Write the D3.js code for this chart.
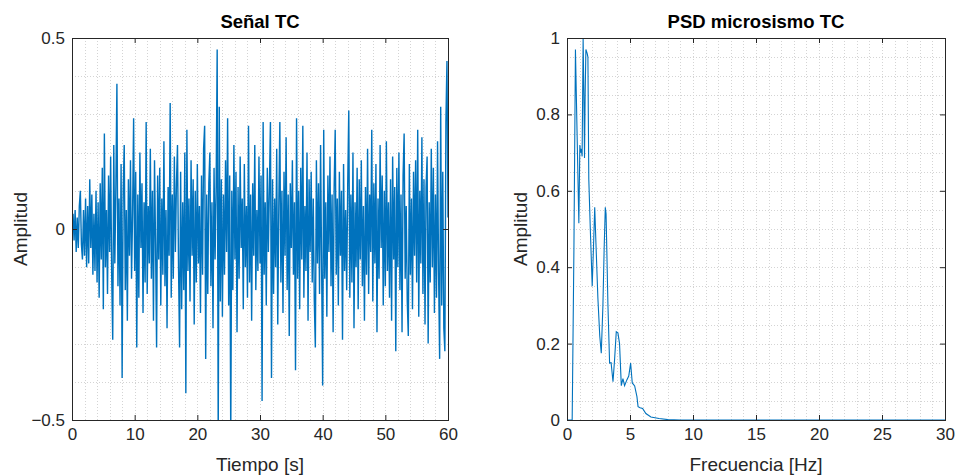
<!DOCTYPE html>
<html>
<head>
<meta charset="utf-8">
<script src="https://cdn.jsdelivr.net/npm/d3@7"></script>
<style>
body { margin: 0; background: #fff; }
text { font-family: "Liberation Sans", Arial, Helvetica, sans-serif; fill: #262626; }
</style>
</head>
<body>
<div id="chart"></div>
<script>

// Señal TC (one sample every 1/6 s, 0..60 s)
var signalTC = [
   0.00, 0.04,-0.03, 0.05,-0.06, 0.03,-0.05, 0.06, 0.10,-0.04,-0.08, 0.05,
  -0.07, 0.08,-0.10, 0.06,-0.09, 0.13,-0.05, 0.09,-0.12, 0.04,-0.11, 0.10,
  -0.14, 0.07,-0.18, 0.12,-0.08, 0.16,-0.21, 0.25,-0.10, 0.05,-0.17, 0.14,
  -0.06, 0.19,-0.12,-0.29, 0.22,-0.09, 0.11, 0.38,-0.15, 0.08,-0.20, 0.17,
  -0.39, 0.10, 0.22,-0.16, 0.05,-0.24, 0.13,-0.07, 0.18,-0.13, 0.04, 0.29,
  -0.11, 0.15,-0.31, 0.09,-0.18, 0.20,-0.05, 0.12,-0.22, 0.07,-0.14, 0.28,
  -0.17, 0.06,-0.09, 0.21,-0.13, 0.10,-0.24, 0.18,-0.04,-0.31, 0.14,-0.08,
   0.16,-0.20, 0.08,-0.12, 0.23,-0.15, 0.05,-0.26, 0.11,-0.07, 0.33,-0.18,
   0.09,-0.13, 0.19,-0.06, 0.12, 0.22,-0.10,-0.31, 0.15,-0.21, 0.07,-0.16,
   0.20,-0.43, 0.26,-0.11, 0.08,-0.19, 0.18,-0.07, 0.13,-0.25, 0.10,-0.14,
   0.17,-0.09, 0.06,-0.22, 0.14,-0.12, 0.21, 0.27,-0.34, 0.09,-0.17, 0.12,
   0.20,-0.15, 0.07,-0.26, 0.16,-0.08, 0.11, 0.47,-0.55, 0.32,-0.19, 0.13,
  -0.23, 0.09,-0.12, 0.18,-0.06, 0.29,-0.20, 0.14,-0.55, 0.10,-0.16, 0.22,
  -0.08, 0.15,-0.27, 0.11,-0.13, 0.19,-0.05, 0.08,-0.21, 0.17,-0.10, 0.06,
  -0.18, 0.27,-0.14, 0.09,-0.24, 0.12,-0.07, 0.22,-0.16, 0.05,-0.11, 0.19,
  -0.09, 0.14,-0.45, 0.28,-0.12, 0.07,-0.20, 0.16,-0.06, 0.11, 0.28,-0.39,
   0.13,-0.17, 0.08,-0.10, 0.21,-0.25, 0.06, 0.28,-0.14, 0.10,-0.22, 0.15,
  -0.07, 0.24,-0.16, 0.09,-0.28, 0.12,-0.05, 0.18,-0.12, 0.07,-0.37, 0.29,
  -0.13, 0.10,-0.21, 0.16,-0.08, 0.27,-0.18, 0.06,-0.11, 0.20,-0.24, 0.13,
  -0.06, 0.15,-0.14, 0.08,-0.19,-0.31, 0.18,-0.09, 0.12,-0.17, 0.22,-0.10,
  -0.41, 0.26,-0.13, 0.07,-0.23, 0.14,-0.06, 0.19,-0.15, 0.09,-0.27, 0.11,
   0.26,-0.12, 0.08,-0.20, 0.15,-0.07, 0.10,-0.29, 0.17,-0.11, 0.05,-0.16,
   0.12, 0.31,-0.18, 0.09,-0.14, 0.20,-0.26, 0.07,-0.10, 0.16,-0.21, 0.13,
  -0.08, 0.18,-0.15, 0.06,-0.24, 0.11,-0.12, 0.21,-0.17, 0.09,-0.06, 0.26,
  -0.19, 0.12,-0.09, 0.17,-0.27, 0.08,-0.13, 0.22,-0.05, 0.14,-0.20, 0.10,
  -0.15, 0.23,-0.11, 0.07,-0.18, 0.13,-0.24, 0.19,-0.08, 0.11,-0.32, 0.16,
  -0.10, 0.20,-0.16, 0.09,-0.27, 0.14, 0.25,-0.13, 0.06,-0.19,-0.28, 0.17,
  -0.12, 0.08,-0.21, 0.15,-0.07, 0.18,-0.14, 0.26,-0.23, 0.10,-0.09, 0.24,
  -0.17, 0.13,-0.25, 0.11, 0.19,-0.30, 0.07,-0.14, 0.21,-0.10, 0.16,-0.22,
   0.09,-0.18, 0.23,-0.12,-0.34, 0.32,-0.20, 0.15,-0.26,-0.32, 0.28, 0.44,
   0.03
];
var signalDuration = 60;

// PSD microsismo TC
var psdFreq = [0, 0.41, 0.55, 0.67, 0.8, 0.94, 1.02, 1.08, 1.13, 1.2, 1.28, 1.34, 1.39, 1.44, 1.5, 1.6, 1.66,
               1.73, 1.85, 2.0, 2.1, 2.2, 2.3, 2.45, 2.6, 2.72, 2.85, 2.95, 3.04, 3.1, 3.25, 3.38, 3.5, 3.65,
               3.78, 3.91, 4.04, 4.17, 4.31, 4.44, 4.57, 4.75, 4.9, 5.05, 5.18, 5.37, 5.55, 5.64, 5.8, 6.0,
               6.26, 6.66, 7.3, 8.0, 9.0, 30];
var psdAmp  = [0, 0, 0.45, 0.97, 0.75, 0.515, 0.72, 0.70, 0.71, 0.69, 1.0, 0.85, 0.686, 0.85, 0.97, 0.96, 0.95,
               0.63, 0.5, 0.35, 0.45, 0.557, 0.46, 0.32, 0.22, 0.175, 0.3, 0.45, 0.557, 0.54, 0.3, 0.149, 0.15, 0.10,
               0.16, 0.231, 0.228, 0.2, 0.09, 0.108, 0.09, 0.105, 0.115, 0.149, 0.097, 0.089, 0.061, 0.035, 0.032, 0.03,
               0.017, 0.008, 0.004, 0.001, 0, 0];

var timeTicks = [0, 10, 20, 30, 40, 50, 60];
var ampTicks = [-0.5, 0, 0.5];
var freqTicks = [0, 5, 10, 15, 20, 25, 30];
var psdTicks = [0, 0.2, 0.4, 0.6, 0.8, 1];

var w = 959;
var h = 476;
var lineColor = "#0072BD";
var axisColor = "#262626";

var svg = d3.select("#chart")
            .append("svg")
            .attr("width", w)
            .attr("height", h);

function drawPanel(opt) {
    var x = d3.scaleLinear().domain(opt.xDomain).range([opt.left, opt.right]);
    var y = d3.scaleLinear().domain(opt.yDomain).range([opt.bottom, opt.top]);
    var g = svg.append("g");

    // dotted grid (major + minor)
    g.selectAll(".gx").data(opt.xGrid).enter().append("line")
       .attr("x1", function(d) { return Math.round(x(d)) + 0.5; })
       .attr("x2", function(d) { return Math.round(x(d)) + 0.5; })
       .attr("y1", opt.top).attr("y2", opt.bottom)
       .attr("stroke", "#d4d4d4").attr("stroke-dasharray", "1,2");
    g.selectAll(".gy").data(opt.yGrid).enter().append("line")
       .attr("y1", function(d) { return Math.round(y(d)) + 0.5; })
       .attr("y2", function(d) { return Math.round(y(d)) + 0.5; })
       .attr("x1", opt.left).attr("x2", opt.right)
       .attr("stroke", "#d4d4d4").attr("stroke-dasharray", "1,2");

    g.append("clipPath").attr("id", opt.id)
       .append("rect")
       .attr("x", opt.left).attr("y", opt.top)
       .attr("width", opt.right - opt.left).attr("height", opt.bottom - opt.top);

    var line = d3.line()
        .x(function(d) { return x(d[0]); })
        .y(function(d) { return y(d[1]); });

    g.append("path")
       .datum(opt.points)
       .attr("clip-path", "url(#" + opt.id + ")")
       .attr("fill", "none")
       .attr("stroke", lineColor)
       .attr("stroke-width", opt.lineWidth)
       .attr("d", line);

    // axes: ticks pointing inwards on all four sides
    var bottom = g.append("g").attr("transform", "translate(0," + opt.bottom + ")")
        .call(d3.axisBottom(x).tickValues(opt.xTicks).tickSize(-5).tickPadding(8).tickFormat(d3.format("")));
    var top = g.append("g").attr("transform", "translate(0," + opt.top + ")")
        .call(d3.axisTop(x).tickValues(opt.xTicks).tickSize(-5).tickFormat(""));
    var left = g.append("g").attr("transform", "translate(" + opt.left + ",0)")
        .call(d3.axisLeft(y).tickValues(opt.yTicks).tickSize(-5).tickPadding(7).tickFormat(d3.format("")));
    var right = g.append("g").attr("transform", "translate(" + opt.right + ",0)")
        .call(d3.axisRight(y).tickValues(opt.yTicks).tickSize(-5).tickFormat(""));

    [bottom, top, left, right].forEach(function(a) {
        a.select(".domain").remove();
        a.selectAll("line").attr("stroke", axisColor);
        a.selectAll("text").attr("font-size", 17).attr("font-family", null).style("fill", axisColor);
    });

    g.append("rect")
       .attr("x", opt.left + 0.5).attr("y", opt.top + 0.5)
       .attr("width", opt.right - opt.left).attr("height", opt.bottom - opt.top)
       .attr("fill", "none").attr("stroke", axisColor).attr("stroke-width", 1);

    var cx = (opt.left + opt.right) / 2;
    g.append("text").attr("x", cx).attr("y", 28)
       .attr("text-anchor", "middle").attr("font-size", 18.5).attr("font-weight", "bold")
       .style("fill", "#000").text(opt.title);
    g.append("text").attr("x", cx).attr("y", 471)
       .attr("text-anchor", "middle").attr("font-size", 19).text(opt.xLabel);
    g.append("text")
       .attr("transform", "translate(" + opt.yLabelX + "," + ((opt.top + opt.bottom) / 2) + ") rotate(-90)")
       .attr("text-anchor", "middle").attr("font-size", 19).text(opt.yLabel);
}

drawPanel({
    id: "clipSignal",
    left: 72, right: 448, top: 38, bottom: 420,
    xDomain: [0, signalDuration], yDomain: [-0.5, 0.5],
    xTicks: timeTicks, yTicks: ampTicks,
    xGrid: d3.range(2, 60, 2), yGrid: d3.range(-4, 5).map(function(k) { return k / 10; }),
    points: signalTC.map(function(v, i) { return [i * signalDuration / (signalTC.length - 1), v]; }),
    lineWidth: 1.4,
    title: "Señal TC", xLabel: "Tiempo [s]", yLabel: "Amplitud", yLabelX: 27
});

drawPanel({
    id: "clipPsd",
    left: 567, right: 945, top: 38, bottom: 420,
    xDomain: [0, 30], yDomain: [0, 1],
    xTicks: freqTicks, yTicks: psdTicks,
    xGrid: d3.range(1, 30, 1), yGrid: d3.range(1, 20).map(function(k) { return k / 20; }),
    points: psdFreq.map(function(f, i) { return [f, psdAmp[i]]; }),
    lineWidth: 1.1,
    title: "PSD microsismo TC", xLabel: "Frecuencia [Hz]", yLabel: "Amplitud", yLabelX: 527
});

</script>
</body>
</html>
